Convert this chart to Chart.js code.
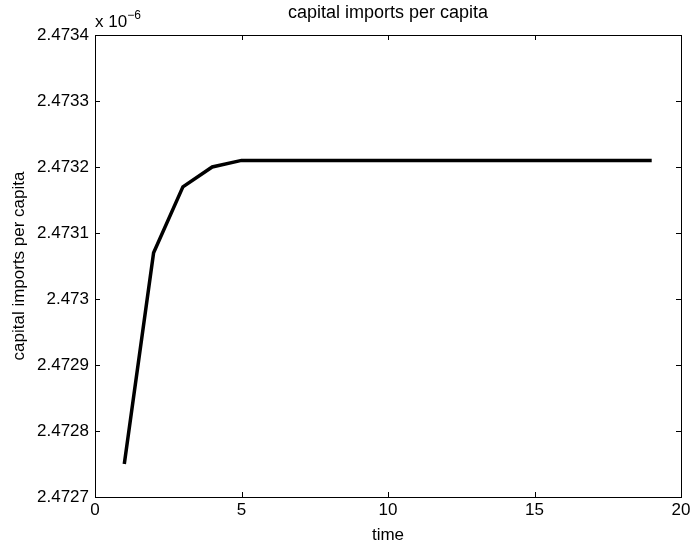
<!DOCTYPE html>
<html><head><meta charset="utf-8">
<script src="https://cdn.jsdelivr.net/npm/chart.js@4"></script>
<style>html,body{margin:0;padding:0;background:#fff}#wrap{width:691px;height:545px}</style>
</head><body><div id="wrap"><canvas id="c" width="691" height="545"></canvas></div>
<script>
const timeSteps = [1,2,3,4,5,6,7,8,9,10,11,12,13,14,15,16,17,18,19];
// values in units of 1e-6
const importsPerCapita = [2.47275,2.47307,2.47317,2.47320,2.47321,2.47321,2.47321,2.47321,2.47321,2.47321,2.47321,2.47321,2.47321,2.47321,2.47321,2.47321,2.47321,2.47321,2.47321];
const xTicks = [0,5,10,15,20];
const yTicks = [2.4727,2.4728,2.4729,2.4730,2.4731,2.4732,2.4733,2.4734];
const yTickLabels = ['2.4727','2.4728','2.4729','2.473','2.4731','2.4732','2.4733','2.4734'];
const titleText = 'capital imports per capita';
const xLabel = 'time';
const yLabel = 'capital imports per capita';

const FONT = 'Liberation Sans, Arial, Helvetica, sans-serif';

const boxPlugin = {
  id: 'box',
  afterDraw(chart) {
    const ctx = chart.ctx, a = chart.chartArea;
    const xs = chart.scales.x, ys = chart.scales.y;
    ctx.save();
    ctx.strokeStyle = '#000'; ctx.lineWidth = 1;
    ctx.strokeRect(Math.round(a.left)+0.5, Math.round(a.top)+0.5, Math.round(a.right-a.left), Math.round(a.bottom-a.top));
    ctx.beginPath();
    const tl = 5;
    xTicks.forEach(v => {
      const px = Math.round(xs.getPixelForValue(v)) + 0.5;
      ctx.moveTo(px, a.bottom); ctx.lineTo(px, a.bottom - tl);
      ctx.moveTo(px, a.top); ctx.lineTo(px, a.top + tl);
    });
    yTicks.forEach(v => {
      const py = Math.round(ys.getPixelForValue(v)) + 0.5;
      ctx.moveTo(a.left, py); ctx.lineTo(a.left + tl, py);
      ctx.moveTo(a.right, py); ctx.lineTo(a.right - tl, py);
    });
    ctx.stroke();
    ctx.fillStyle = '#000';
    // title
    ctx.font = '18px ' + FONT;
    ctx.textAlign = 'center'; ctx.textBaseline = 'alphabetic';
    ctx.fillText(titleText, (a.left + a.right) / 2, 18);
    // x label
    ctx.font = '17px ' + FONT;
    ctx.fillText(xLabel, (a.left + a.right) / 2, 540);
    // y label
    ctx.save();
    ctx.translate(24, (a.top + a.bottom) / 2);
    ctx.rotate(-Math.PI / 2);
    ctx.fillText(yLabel, 0, 0);
    ctx.restore();
    // exponent
    ctx.textAlign = 'left';
    ctx.font = '17px ' + FONT;
    ctx.fillText('x 10', a.left, 27);
    const w = ctx.measureText('x 10').width;
    ctx.font = '12px ' + FONT;
    ctx.fillText('\u22126', a.left + w, 19);
    ctx.restore();
  }
};

new Chart(document.getElementById('c'), {
  type: 'line',
  data: {
    datasets: [{
      data: timeSteps.map((t, i) => ({x: t, y: importsPerCapita[i]})),
      borderColor: '#000', borderWidth: 3.5, pointRadius: 0, fill: false, tension: 0,
      borderJoinStyle: 'miter', borderCapStyle: 'butt'
    }]
  },
  options: {
    responsive: false, animation: false, devicePixelRatio: 1,
    layout: { padding: { top: 35, right: 10, left: 0, bottom: 0 } },
    plugins: { legend: { display: false }, tooltip: { enabled: false }, title: { display: false } },
    scales: {
      x: {
        type: 'linear', min: 0, max: 20,
        afterBuildTicks: s => { s.ticks = xTicks.map(v => ({value: v})); },
        afterFit: s => { s.height = 48; s.paddingLeft = 0; s.paddingRight = 0; },
        grid: { display: false, drawTicks: false }, border: { display: false },
        ticks: { color: '#000', font: { family: FONT, size: 17 }, padding: 3, maxRotation: 0, callback: v => String(v) }
      },
      y: {
        type: 'linear', min: 2.4727, max: 2.4734,
        afterBuildTicks: s => { s.ticks = yTicks.map(v => ({value: v})); },
        afterFit: s => { s.width = 95; s.paddingTop = 0; s.paddingBottom = 0; },
        grid: { display: false, drawTicks: false }, border: { display: false },
        ticks: { color: '#000', font: { family: FONT, size: 17 }, padding: 6,
          callback: (v, i) => yTickLabels[i] }
      }
    }
  },
  plugins: [boxPlugin]
});
</script></body></html>
